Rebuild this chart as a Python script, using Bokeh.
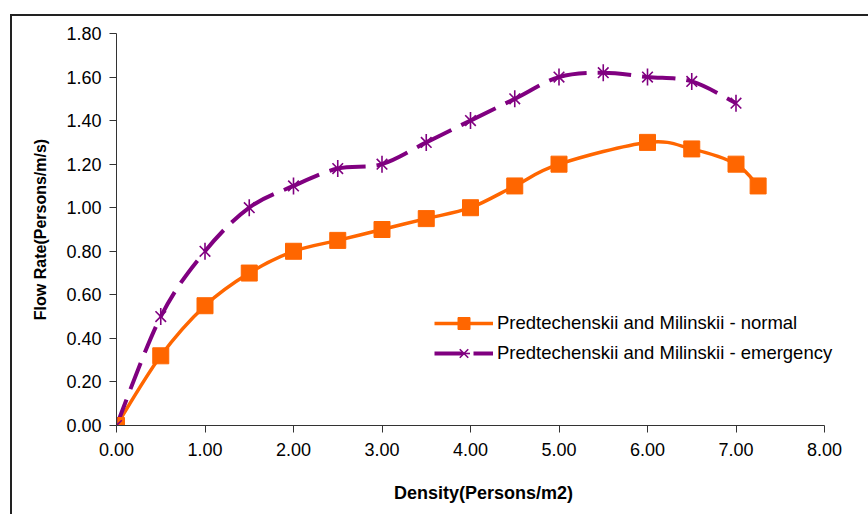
from bokeh.plotting import figure
from bokeh.models import Range1d, FixedTicker, PrintfTickFormatter, Legend, LegendItem, ColumnDataSource
from bokeh.layouts import column
from bokeh.embed import file_html
from bokeh.resources import INLINE
import math

# Pedestrian flow vs. density (Predtechenskii and Milinskii)
density_normal = [0.0, 0.5, 1.0, 1.5, 2.0, 2.5, 3.0, 3.5, 4.0, 4.5, 5.0, 6.0, 6.5, 7.0, 7.25]
flow_normal = [0.0, 0.32, 0.55, 0.70, 0.80, 0.85, 0.90, 0.95, 1.00, 1.10, 1.20, 1.30, 1.27, 1.20, 1.10]

density_emergency = [0.0, 0.5, 1.0, 1.5, 2.0, 2.5, 3.0, 3.5, 4.0, 4.5, 5.0, 5.5, 6.0, 6.5, 7.0]
flow_emergency = [0.0, 0.50, 0.80, 1.00, 1.10, 1.18, 1.20, 1.30, 1.40, 1.50, 1.60, 1.62, 1.60, 1.58, 1.48]

x_ticks = [0, 1, 2, 3, 4, 5, 6, 7, 8]
y_ticks = [0.0, 0.2, 0.4, 0.6, 0.8, 1.0, 1.2, 1.4, 1.6, 1.8]

label_normal = "Predtechenskii and Milinskii - normal"
label_emergency = "Predtechenskii and Milinskii - emergency"

ORANGE = "#FF6600"
PURPLE = "#800080"
FONT = "Liberation Sans"


def smooth_segments(xs, ys):
    """Cubic Bezier segments through the points (Catmull-Rom style smoothing)."""
    n = len(xs)
    seg = dict(x0=[], y0=[], x1=[], y1=[], cx0=[], cy0=[], cx1=[], cy1=[])
    for i in range(n - 1):
        p0 = (xs[max(i - 1, 0)], ys[max(i - 1, 0)])
        p1 = (xs[i], ys[i])
        p2 = (xs[i + 1], ys[i + 1])
        p3 = (xs[min(i + 2, n - 1)], ys[min(i + 2, n - 1)])
        seg["x0"].append(p1[0]); seg["y0"].append(p1[1])
        seg["x1"].append(p2[0]); seg["y1"].append(p2[1])
        seg["cx0"].append(p1[0] + (p2[0] - p0[0]) / 6.0)
        seg["cy0"].append(p1[1] + (p2[1] - p0[1]) / 6.0)
        seg["cx1"].append(p2[0] - (p3[0] - p1[0]) / 6.0)
        seg["cy1"].append(p2[1] - (p3[1] - p1[1]) / 6.0)
    return ColumnDataSource(seg)


# the frame runs on past x=8 so the legend has room; the x axis line stops at 8
p = figure(
    width=856, height=498,
    x_range=Range1d(0, 734 / 88.5), y_range=Range1d(0, 1.8),
    output_backend="svg", toolbar_location=None,
    min_border_left=104, min_border_right=18, min_border_top=17, min_border_bottom=89,
)
p.outline_line_color = None
p.xgrid.visible = False
p.ygrid.visible = False
p.background_fill_color = "white"
p.border_fill_color = "white"

# curves
p.bezier(x0="x0", y0="y0", x1="x1", y1="y1", cx0="cx0", cy0="cy0", cx1="cx1", cy1="cy1",
         source=smooth_segments(density_normal, flow_normal), line_color=ORANGE, line_width=3.5)
p.bezier(x0="x0", y0="y0", x1="x1", y1="y1", cx0="cx0", cy0="cy0", cx1="cx1", cy1="cy1",
         source=smooth_segments(density_emergency, flow_emergency), line_color=PURPLE, line_width=4,
         line_dash="28 11")

# legend line samples (a single undrawable point each)
nan = float("nan")
leg_line_n = p.line(x=[nan], y=[nan], line_color=ORANGE, line_width=3.5)
leg_line_e = p.line(x=[nan], y=[nan], line_color=PURPLE, line_width=4, line_dash="28 11")

# markers
sq = p.scatter(density_normal, flow_normal, marker="square", size=16, fill_color=ORANGE, line_color=ORANGE)
st_x = p.scatter(density_emergency, flow_emergency, marker="x", size=15, line_color=PURPLE, line_width=1.6)
st_v = p.scatter(density_emergency, flow_emergency, marker="dash", angle=math.pi / 2, size=17,
                 line_color=PURPLE, line_width=1.6)

# axes
p.xaxis.ticker = FixedTicker(ticks=x_ticks)
p.yaxis.ticker = FixedTicker(ticks=y_ticks)
p.xaxis.formatter = PrintfTickFormatter(format="%.2f")
p.yaxis.formatter = PrintfTickFormatter(format="%.2f")
p.xaxis.bounds = (0, 8)
for ax in (p.xaxis, p.yaxis):
    ax.axis_line_color = "#333333"
    ax.axis_line_width = 1
    ax.major_tick_line_color = "#333333"
    ax.major_tick_in = 0
    ax.major_tick_out = 7
    ax.minor_tick_line_color = None
    ax.major_label_text_font = FONT
    ax.major_label_text_font_size = "18px"
    ax.major_label_text_color = "black"
    ax.axis_label_text_font = FONT
    ax.axis_label_text_font_style = "bold"
    ax.axis_label_text_color = "black"
p.xaxis.major_label_standoff = 10
p.yaxis.major_label_standoff = 8
p.xaxis.axis_label = "Density(Persons/m2)"
p.yaxis.axis_label = "Flow Rate(Persons/m/s)"
p.xaxis.axis_label_text_font_size = "18px"
p.yaxis.axis_label_text_font_size = "16px"
p.xaxis.axis_label_standoff = 24
p.yaxis.axis_label_standoff = 14

legend = Legend(
    items=[
        LegendItem(label=label_normal, renderers=[leg_line_n, sq]),
        LegendItem(label=label_emergency, renderers=[leg_line_e, st_x, st_v]),
    ],
    location=(318, 57),
    glyph_width=59, glyph_height=30, label_height=30, spacing=0,
    label_standoff=4, padding=0, margin=0,
    border_line_color=None, background_fill_alpha=0,
    label_text_font=FONT, label_text_font_size="18.5px", label_text_color="black",
)
p.add_layout(legend, "center")

page = column(p, styles={"margin-left": "10px", "margin-top": "14px",
                         "border-left": "2px solid #222", "border-top": "2px solid #222"})

open("out.html", "w").write(file_html(page, INLINE))
